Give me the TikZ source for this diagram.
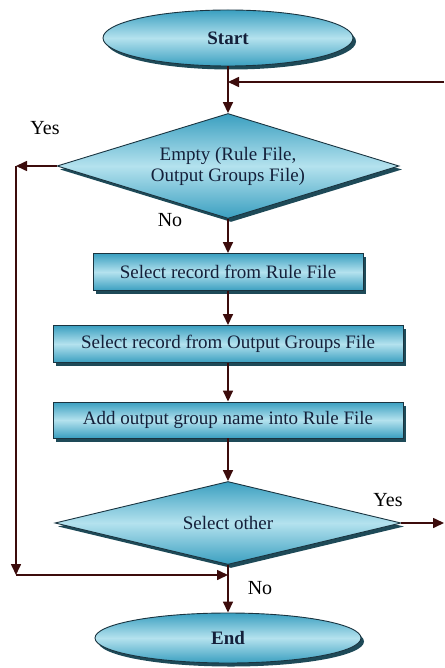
\documentclass[tikz,border=0pt]{standalone}
\usepackage{fontspec}
\setmainfont{Liberation Serif}
\usetikzlibrary{shapes.geometric,arrows.meta,shadows}
\definecolor{tealD}{HTML}{3A9FC0}
\definecolor{tealL}{HTML}{B4E2EE}
\definecolor{shad}{HTML}{1E4A58}
\definecolor{edge}{HTML}{1A3440}
\definecolor{arrc}{HTML}{3C0C0C}
\definecolor{txt}{HTML}{14203A}
\tikzset{
  shaded/.style={top color=tealD, bottom color=tealD, middle color=tealL,
    draw=edge, line width=0.9pt, text=txt, inner sep=0pt,
    font=\fontsize{19}{21}\selectfont,
    drop shadow={shadow xshift=3pt, shadow yshift=-3.5pt, fill=shad, opacity=1}},
  oval/.style={shaded, ellipse},
  dia/.style={shaded, diamond, align=center},
  procbox/.style={shaded, rectangle},
  arr/.style={draw=arrc, line width=1.6pt, -{Triangle[length=11pt,width=10pt]}},
  lbl/.style={text=black, font=\fontsize{20}{22}\selectfont, inner sep=0pt}
}
\begin{document}
\begin{tikzpicture}[x=1pt,y=-1pt]
\useasboundingbox (0,0) rectangle (444,668);
\node[oval, minimum width=250pt, minimum height=56pt] (start) at (228,38) {\textbf{Start}};
\node[dia, aspect=3.3, minimum width=342pt, minimum height=105pt] (d1) at (228,166) {Empty (Rule File,\\Output Groups File)};
\node[procbox, minimum width=270pt, minimum height=37pt] (b1) at (228,272) {Select record from Rule File};
\node[procbox, minimum width=350pt, minimum height=37pt] (b2) at (228,344) {Select record from Output Groups File};
\node[procbox, minimum width=350pt, minimum height=36pt] (b3) at (228,420) {Add output group name into Rule File};
\node[dia, aspect=4.2, minimum width=346pt, minimum height=83pt] (d2) at (228,523) {Select other};
\node[oval, minimum width=266pt, minimum height=50pt] (end) at (228,638) {\textbf{End}};

\coordinate (rin) at (444,82);
\coordinate (j1) at (228,82);
\coordinate (lt) at (16,166);
\coordinate (lb) at (16,575);
\coordinate (j2) at (228,575);
\coordinate (rout) at (444,523);

\draw[arr] (start.south) -- (d1.north);
\draw[arr] (rin) -- (j1);
\draw[arr] (d1.west) -- (lt);
\draw[arr] (lt) -- (lb);
\draw[arr] (lb) -- (j2);
\draw[arr] (d1.south) -- (b1.north);
\draw[arr] (b1.south) -- (b2.north);
\draw[arr] (b2.south) -- (b3.north);
\draw[arr] (b3.south) -- (d2.north);
\draw[arr] (d2.south) -- (end.north);
\draw[arr] (d2.east) -- (rout);

\node[lbl] (yes1) at (45,128) {Yes};
\node[lbl] (no1) at (170,220) {No};
\node[lbl] (yes2) at (388,500) {Yes};
\node[lbl] (no2) at (260,588) {No};
\end{tikzpicture}
\end{document}
